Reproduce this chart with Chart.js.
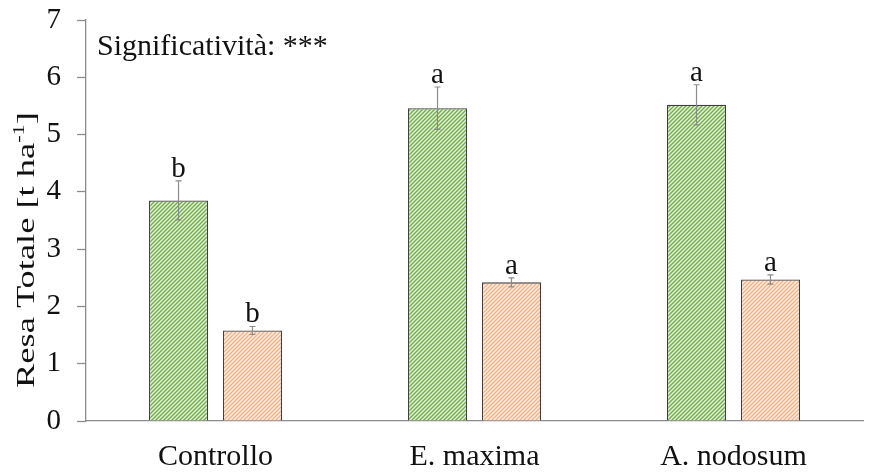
<!DOCTYPE html>
<html lang="it">
<head>
    <meta charset="UTF-8">
    <title>Resa Totale</title>
    <script src="https://cdn.jsdelivr.net/npm/chart.js@4.4.1/dist/chart.umd.min.js"></script>
    <style>
        html, body { margin: 0; padding: 0; background: #fff; }
        #wrap { width: 871px; height: 473px; }
    </style>
</head>
<body>
<div id="wrap"><canvas id="myChart" width="871" height="473"></canvas></div>

<script>
    // data
    const categories = ['Controllo', 'E. maxima', 'A. nodosum'];
    const greenValues = [3.85, 5.46, 5.52];
    const greenErrors = [0.34, 0.37, 0.35];
    const greenLetters = ['b', 'a', 'a'];
    const orangeValues = [1.58, 2.42, 2.47];
    const orangeErrors = [0.07, 0.08, 0.08];
    const orangeLetters = ['b', 'a', 'a'];
    const yTicks = [0, 1, 2, 3, 4, 5, 6, 7];

    const serif = '"Liberation Serif", "Times New Roman", serif';

    // hatch pattern like the Excel "wide upward diagonal"
    function hatch(bg, fg) {
        const c = document.createElement('canvas');
        c.width = 4; c.height = 4;
        const g = c.getContext('2d');
        g.fillStyle = bg;
        g.fillRect(0, 0, 4, 4);
        g.strokeStyle = fg;
        g.lineWidth = 1.4;
        g.beginPath();
        g.moveTo(-1, 5); g.lineTo(5, -1);
        g.moveTo(-1, 1); g.lineTo(1, -1);
        g.moveTo(3, 5); g.lineTo(5, 3);
        g.stroke();
        return document.getElementById('myChart').getContext('2d').createPattern(c, 'repeat');
    }

    // error bars, letters, note and the y title (needs a superscript)
    const extras = {
        id: 'extras',
        afterDatasetsDraw(chart) {
            const ctx = chart.ctx;
            const y = chart.scales.y;
            const sets = [[greenErrors, greenLetters], [orangeErrors, orangeLetters]];
            ctx.save();
            sets.forEach(([errs, letters], di) => {
                const meta = chart.getDatasetMeta(di);
                const vals = chart.data.datasets[di].data;
                meta.data.forEach((bar, i) => {
                    const top = y.getPixelForValue(vals[i] + errs[i]);
                    const bot = y.getPixelForValue(vals[i] - errs[i]);
                    ctx.strokeStyle = '#8c8c8c';
                    ctx.lineWidth = 1.2;
                    ctx.beginPath();
                    ctx.moveTo(bar.x, top); ctx.lineTo(bar.x, bot);
                    ctx.moveTo(bar.x - 3, top); ctx.lineTo(bar.x + 3, top);
                    ctx.moveTo(bar.x - 3, bot); ctx.lineTo(bar.x + 3, bot);
                    ctx.stroke();
                    ctx.fillStyle = '#111';
                    ctx.font = '29px ' + serif;
                    ctx.textAlign = 'center';
                    ctx.textBaseline = 'alphabetic';
                    ctx.fillText(letters[i], bar.x, top - 4);
                });
            });
            // note
            ctx.font = '30px ' + serif;
            ctx.textAlign = 'left';
            ctx.fillStyle = '#111';
            ctx.fillText('Significatività: ***', 97, 55);
            // y axis title
            ctx.translate(34, 250);
            ctx.rotate(-Math.PI / 2);
            ctx.scale(1.4, 1);
            const main = 'Resa Totale [t ha';
            ctx.font = '26px ' + serif;
            const w1 = ctx.measureText(main).width;
            ctx.font = '16px ' + serif;
            const w2 = ctx.measureText('-1').width;
            ctx.font = '26px ' + serif;
            const w3 = ctx.measureText(']').width;
            const x0 = -(w1 + w2 + w3) / 2;
            ctx.fillText(main, x0, 0);
            ctx.font = '16px ' + serif;
            ctx.fillText('-1', x0 + w1, -10);
            ctx.font = '26px ' + serif;
            ctx.fillText(']', x0 + w1 + w2, 0);
            ctx.restore();
        }
    };

    const ctx = document.getElementById('myChart');
    const myChart = new Chart(ctx, {
        type: 'bar',
        data: {
            labels: categories,
            datasets: [{
                data: greenValues,
                backgroundColor: hatch('#e6f2dc', '#70ad47'),
                borderColor: '#404040',
                borderWidth: 1.3,
                categoryPercentage: 0.571,
                barPercentage: 0.8
            }, {
                data: orangeValues,
                backgroundColor: hatch('#fdf1e8', '#f4b183'),
                borderColor: '#404040',
                borderWidth: 1.3,
                categoryPercentage: 0.571,
                barPercentage: 0.8
            }]
        },
        options: {
            responsive: false,
            animation: false,
            layout: {padding: {top: 20, right: 8, left: 0, bottom: 0}},
            plugins: {
                legend: {display: false},
                tooltip: {enabled: false}
            },
            scales: {
                x: {
                    grid: {display: false},
                    border: {color: '#8c8c8c', width: 1.3},
                    ticks: {color: '#111', font: {family: serif, size: 30}, padding: 10},
                    afterFit(s) { s.height = 52; s.paddingLeft = 0; s.paddingRight = 0; }
                },
                y: {
                    min: 0,
                    max: 7,
                    afterBuildTicks(s) { s.ticks = yTicks.map(v => ({value: v})); },
                    grid: {drawOnChartArea: false, tickLength: 9, tickColor: '#8c8c8c', tickWidth: 1.3},
                    border: {color: '#8c8c8c', width: 1.3},
                    ticks: {color: '#111', font: {family: serif, size: 29}, padding: 16},
                    afterFit(s) { s.width = 86; s.paddingTop = 0; s.paddingBottom = 0; }
                }
            }
        },
        plugins: [extras]
    });
</script>
</body>
</html>
